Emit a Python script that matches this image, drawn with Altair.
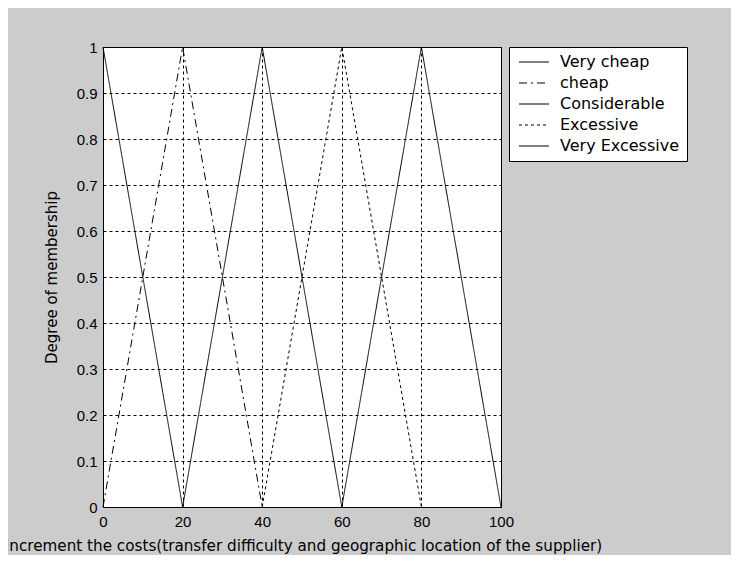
import altair as alt
import pandas as pd

# Series data (membership functions)
series_names = ["\u00a0Very cheap", "cheap", "Considerable", "Excessive", "Very Excessive"]
very_cheap_x = [0, 20]
very_cheap_y = [1, 0]
cheap_x = [0, 20, 40]
cheap_y = [0, 1, 0]
considerable_x = [20, 40, 60]
considerable_y = [0, 1, 0]
excessive_x = [40, 60, 80]
excessive_y = [0, 1, 0]
very_excessive_x = [60, 80, 100]
very_excessive_y = [0, 1, 0]

x_ticks = [0, 20, 40, 60, 80, 100]
y_ticks = [0, 0.1, 0.2, 0.3, 0.4, 0.5, 0.6, 0.7, 0.8, 0.9, 1]

xs = [very_cheap_x, cheap_x, considerable_x, excessive_x, very_excessive_x]
ys = [very_cheap_y, cheap_y, considerable_y, excessive_y, very_excessive_y]
rows = []
for name, sx, sy in zip(series_names, xs, ys):
    for i, (a, b) in enumerate(zip(sx, sy)):
        rows.append({"series": name, "x": a, "y": b, "order": i})
df = pd.DataFrame(rows)

FONT = "Liberation Sans"
WIDE = "DejaVu Sans"
dashes = [[1, 0], [8, 4, 2, 4], [1, 0], [3, 3], [1, 0]]

chart = alt.Chart(df).mark_line(color="black", strokeWidth=1).encode(
    x=alt.X("x:Q", scale=alt.Scale(domain=[0, 100], nice=False),
            axis=alt.Axis(values=x_ticks, title="Increment the costs(transfer difficulty and geographic location of the supplier)",
                          titleX=200, titleY=38, titleBaseline="middle", titleFont=WIDE, titleFontSize=15.2,
                          labelPadding=7, labelFlush=False)),
    y=alt.Y("y:Q", scale=alt.Scale(domain=[0, 1], nice=False),
            axis=alt.Axis(values=y_ticks, labelExpr="format(datum.value, '.1~f')",
                          title="Degree of membership", titleX=-52, titleY=230,
                          titleAngle=-90, titleBaseline="middle", titleAlign="center",
                          titleFont=WIDE, titleFontSize=15,
                          labelPadding=6, labelFlush=False)),
    strokeDash=alt.StrokeDash("series:N", sort=series_names,
        scale=alt.Scale(domain=series_names, range=dashes),
        legend=alt.Legend(title=None, orient="none", legendX=406, legendY=0,
                          symbolType="M-3,0H3", symbolSize=100, symbolStrokeWidth=1,
                          symbolStrokeColor="black", symbolFillColor="transparent",
                          symbolOffset=10,
                          labelFont=WIDE, labelFontSize=16,
                          labelColor="black", fillColor="white", strokeColor="black",
                          padding=7, rowPadding=5, labelOffset=18)),
    order="order:Q",
).properties(
    width=398, height=460,
    background="#cccccc",
    autosize=alt.AutoSizeParams(type="none"),
    padding={"left": 95, "top": 39, "right": 230, "bottom": 48},
).configure_view(
    fill="white", stroke="black", strokeWidth=1
).configure_axis(
    grid=True, gridColor="black", gridDash=[3, 3], gridOpacity=1, gridWidth=1,
    domain=True, domainColor="black", ticks=False, tickSize=0,
    labelFont=FONT, labelFontSize=15, labelColor="black",
    titleFont=FONT, titleFontSize=15, titleColor="black", titleFontWeight="normal",
)

chart.save("out.html", embed_options={"renderer": "svg", "actions": False})
